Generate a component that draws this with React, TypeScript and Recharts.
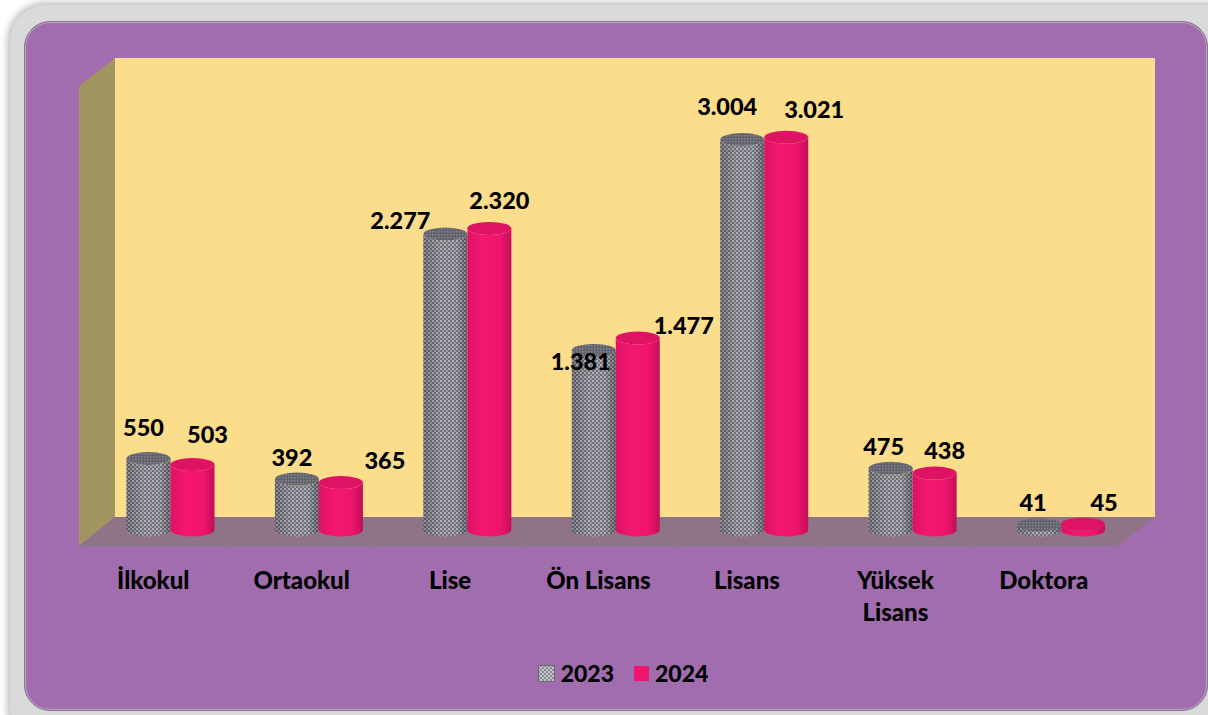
import React from 'react'
import { BarChart, Bar, XAxis, YAxis, Legend, LabelList } from 'recharts'

const categories = ['İlkokul', 'Ortaokul', 'Lise', 'Ön Lisans', 'Lisans', 'Yüksek\nLisans', 'Doktora']
const values2023 = [550, 392, 2277, 1381, 3004, 475, 41]
const values2024 = [503, 365, 2320, 1477, 3021, 438, 45]

// the value labels were placed by hand in the original, so each one has its own nudge
const labelDx2023 = [-5, -5, -45, -13, -15, -7, -6]
const labelDy2023 = [-29, -19, -11, 13, -31, -19, -20]
const labelDx2024 = [15, 44, 10, 46, 28, 10, 21]
const labelDy2024 = [-28, -20, -25, -10, -25, -20, -19]

const chartData = categories.map((name, i) => ({
  name,
  y2023: values2023[i],
  y2024: values2024[i],
}))

const FONT = 'Lato, sans-serif'
const WIDTH = 1208
const HEIGHT = 715
const BAND = (1118 - 79) / categories.length
const DEPTH_X = 17.5
const DEPTH_Y = 16
const RY = 6.5

function Cylinder(props: any) {
  const { x, y, width, height, body, edge, top } = props
  const left = x + DEPTH_X
  const right = left + width
  const rx = width / 2
  const yTop = y - DEPTH_Y
  const yBottom = y + height - DEPTH_Y
  const d = `M${left},${yTop} L${left},${yBottom} A${rx},${RY} 0 0 0 ${right},${yBottom} L${right},${yTop} A${rx},${RY} 0 0 1 ${left},${yTop} Z`
  return (
    <g>
      <path d={d} fill={body} />
      <path d={d} fill={edge} />
      <ellipse cx={left + rx} cy={yTop} rx={rx} ry={RY} fill={top} />
    </g>
  )
}

function makeValueLabel(dxs: number[], dys: number[]) {
  return function ValueLabel(props: any) {
    const { x, y, width, value, index } = props
    return (
      <text
        x={x + width / 2 + DEPTH_X + dxs[index]}
        y={y - DEPTH_Y + dys[index]}
        textAnchor="middle"
        dominantBaseline="middle"
        fontFamily={FONT}
        fontWeight={900}
        fontSize={23.5}
        fill="#000"
      >
        {Number(value).toLocaleString('tr-TR')}
      </text>
    )
  }
}

function CategoryTick({ x, y, payload, index }: any) {
  const lines = String(payload.value).split('\n')
  return (
    <g>
      <line x1={x - BAND / 2} x2={x - BAND / 2} y1={y - 5} y2={y} stroke="#8a7a8c" />
      {index === categories.length - 1 ? (
        <line x1={x + BAND / 2} x2={x + BAND / 2} y1={y - 5} y2={y} stroke="#8a7a8c" />
      ) : null}
      {lines.map((line: string, i: number) => (
        <text
          key={line}
          x={x}
          y={y + 32 + i * 32}
          textAnchor="middle"
          dominantBaseline="middle"
          fontFamily={FONT}
          fontWeight={900}
          fontSize={24}
          fill="#000"
        >
          {line}
        </text>
      ))}
    </g>
  )
}

function ChartLegend() {
  const item = { display: 'flex', alignItems: 'center', gap: 6 }
  return (
    <div
      style={{
        display: 'flex',
        justifyContent: 'center',
        gap: 20,
        fontFamily: FONT,
        fontWeight: 900,
        fontSize: 23,
        lineHeight: '24px',
        color: '#000',
        paddingLeft: 38,
      }}
    >
      <div style={item}>
        <svg width={17} height={17}>
          <rect x={0.5} y={0.5} width={16} height={16} fill="url(#hatch)" stroke="#6b6b70" />
        </svg>
        2023
      </div>
      <div style={item}>
        <svg width={15} height={15}>
          <rect width={15} height={15} fill="#F0146E" />
        </svg>
        2024
      </div>
    </div>
  )
}

function Backdrop() {
  return (
    <svg width={WIDTH} height={HEIGHT} style={{ position: 'absolute', left: 0, top: 0 }}>
      <polygon points="115,58 1155,58 1155,517 115,517" fill="#FBDD8C" />
      <polygon points="79,86 115,58 115,517 79,546" fill="#A09560" />
      <polygon points="79,546 115,517 1155,517 1118,546" fill="#8F7488" />
    </svg>
  )
}

export default function App() {
  return (
    <div style={{ position: 'absolute', left: 0, top: 0, width: WIDTH, height: HEIGHT, overflow: 'hidden', background: '#fff' }}>
      <div
        style={{
          position: 'absolute',
          left: 10,
          top: 5,
          width: 1240,
          height: 740,
          borderRadius: 36,
          background: '#DADADA',
          boxShadow: '0 0 7px 3px #c0c0c0',
        }}
      />
      <div
        style={{
          position: 'absolute',
          left: 24,
          top: 21,
          width: 1184,
          height: 690,
          boxSizing: 'border-box',
          borderRadius: 26,
          background: '#A16DAE',
          border: '1.5px solid #7e7e7e',
          boxShadow: 'inset 0 0 0 1px #c3a0cc',
        }}
      />
      <Backdrop />
      <div style={{ position: 'absolute', left: 0, top: 0 }}>
        <BarChart
          width={WIDTH}
          height={HEIGHT}
          data={chartData}
          margin={{ top: 91, right: 90, bottom: 69, left: 79 }}
          barSize={44}
          barGap={0}
        >
          <defs>
            <pattern id="dots" width="4" height="4" patternUnits="userSpaceOnUse">
              <rect width="4" height="4" fill="#70707A" />
              <rect width="2" height="2" fill="#B4B4BC" />
              <rect x="2" y="2" width="2" height="2" fill="#A0A0A8" />
            </pattern>
            <pattern id="hatch" width="4" height="4" patternUnits="userSpaceOnUse">
              <rect width="4" height="4" fill="#8A8A92" />
              <rect width="2" height="2" fill="#C4C4CA" />
              <rect x="2" y="2" width="2" height="2" fill="#C4C4CA" />
            </pattern>
            <pattern id="dotsTop" width="3" height="3" patternUnits="userSpaceOnUse">
              <rect width="3" height="3" fill="#62626C" />
              <rect width="1.5" height="1.5" fill="#84848E" />
            </pattern>
            <linearGradient id="grayEdge" x1="0" x2="1" y1="0" y2="0">
              <stop offset="0" stopColor="#000" stopOpacity={0.22} />
              <stop offset="0.4" stopColor="#000" stopOpacity={0} />
              <stop offset="0.75" stopColor="#000" stopOpacity={0} />
              <stop offset="1" stopColor="#000" stopOpacity={0.3} />
            </linearGradient>
            <linearGradient id="pinkBody" x1="0" x2="1" y1="0" y2="0">
              <stop offset="0" stopColor="#DC1267" />
              <stop offset="0.35" stopColor="#F4176F" />
              <stop offset="0.75" stopColor="#EE146C" />
              <stop offset="1" stopColor="#C01059" />
            </linearGradient>
          </defs>
          <XAxis
            dataKey="name"
            height={60}
            axisLine={{ stroke: '#8a7a8c' }}
            tickLine={false}
            tickMargin={0}
            tickSize={5}
            interval={0}
            tick={<CategoryTick />}
          />
          <YAxis hide domain={[0, 3500]} />
          <Legend
            height={40}
            content={<ChartLegend />}
            wrapperStyle={{ left: 0, top: 661, bottom: 'auto', width: WIDTH }}
          />
          <Bar
            dataKey="y2023"
            isAnimationActive={false}
            shape={<Cylinder body="url(#dots)" edge="url(#grayEdge)" top="url(#dotsTop)" />}
          >
            <LabelList content={makeValueLabel(labelDx2023, labelDy2023)} />
          </Bar>
          <Bar
            dataKey="y2024"
            isAnimationActive={false}
            shape={<Cylinder body="url(#pinkBody)" edge="transparent" top="#DE1364" />}
          >
            <LabelList content={makeValueLabel(labelDx2024, labelDy2024)} />
          </Bar>
        </BarChart>
      </div>
    </div>
  )
}
